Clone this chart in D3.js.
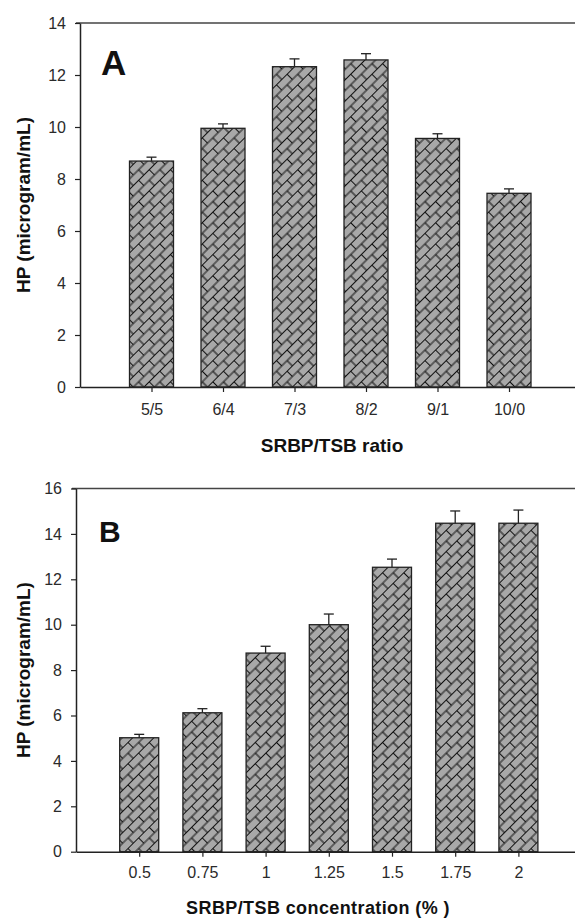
<!DOCTYPE html>
<html>
<head>
<meta charset="utf-8">
<script src="https://cdn.jsdelivr.net/npm/d3@7"></script>
<style>
  body { margin: 0; background: #fff; }
  svg { display: block; font-family: Arial, "Liberation Sans", sans-serif; }
</style>
</head>
<body>
<div id="chart"></div>
<script>
// panel A: SRBP/TSB ratio
const ratioLabels = ["5/5", "6/4", "7/3", "8/2", "9/1", "10/0"]
const ratioValues = [8.69, 9.95, 12.32, 12.58, 9.56, 7.45]
const ratioErrors = [0.15, 0.17, 0.30, 0.24, 0.18, 0.17]
const ratioTicks = [0, 2, 4, 6, 8, 10, 12, 14]

// panel B: SRBP/TSB concentration
const concLabels = ["0.5", "0.75", "1", "1.25", "1.5", "1.75", "2"]
const concValues = [5.02, 6.12, 8.75, 10.0, 12.53, 14.47, 14.47]
const concErrors = [0.15, 0.18, 0.30, 0.47, 0.36, 0.54, 0.58]
const concTicks = [0, 2, 4, 6, 8, 10, 12, 14, 16]

const width = 575, height = 918

const svg = d3.select("#chart").append("svg")
  .attr("width", width)
  .attr("height", height)

// brick hatch used by SigmaPlot-ish bars
const defs = svg.append("defs")
const pat = defs.append("pattern")
  .attr("id", "brick")
  .attr("patternUnits", "userSpaceOnUse")
  .attr("width", 15)
  .attr("height", 15)
  .attr("patternTransform", "rotate(-45)")
pat.append("rect").attr("width", 15).attr("height", 15).attr("fill", "#a8a8a8")
pat.append("path")
  .attr("d", "M0,0.5H15M0,8H15M0.5,0.5V8M8,8V15.5")
  .attr("stroke", "#111")
  .attr("stroke-width", 1.1)
  .attr("fill", "none")

function panel(cfg) {
  const { labels, values, errors, ticks, x0, x1, yTop, yBase, yMax, letter, letterSize, letterX, letterY,
    title, titleX, titleY, titleSize, titleSpacing, labelPad, barW } = cfg

  const x = d3.scalePoint().domain(labels).range([x0, x1]).padding(1)
  const y = d3.scaleLinear().domain([0, yMax]).range([yBase, yTop])

  const g = svg.append("g")

  // top frame line
  g.append("line")
    .attr("x1", x0 - 4).attr("x2", width)
    .attr("y1", y(yMax)).attr("y2", y(yMax))
    .attr("stroke", "#444").attr("stroke-width", 1.5)

  // bars
  g.selectAll("rect.bar")
    .data(values)
    .join("rect")
    .attr("class", "bar")
    .attr("x", (d, i) => x(labels[i]) - barW / 2)
    .attr("width", barW)
    .attr("y", (d) => y(d))
    .attr("height", (d) => y(0) - y(d))
    .attr("fill", "url(#brick)")
    .attr("stroke", "#222")
    .attr("stroke-width", 1.3)

  // upper error bars only
  const err = g.append("g").selectAll("g").data(values).join("g")
  err.append("line")
    .attr("x1", (d, i) => x(labels[i])).attr("x2", (d, i) => x(labels[i]))
    .attr("y1", (d) => y(d)).attr("y2", (d, i) => y(d + errors[i]))
    .attr("stroke", "#222").attr("stroke-width", 1.3)
  err.append("line")
    .attr("x1", (d, i) => x(labels[i]) - 5).attr("x2", (d, i) => x(labels[i]) + 5)
    .attr("y1", (d, i) => y(d + errors[i])).attr("y2", (d, i) => y(d + errors[i]))
    .attr("stroke", "#222").attr("stroke-width", 1.3)

  // y axis
  const ya = g.append("g")
    .attr("transform", `translate(${x0},0)`)
    .call(d3.axisLeft(y).tickValues(ticks).tickFormat(d3.format("d")).tickSize(5).tickSizeOuter(0).tickPadding(9))
  ya.select(".domain").attr("stroke", "#222").attr("stroke-width", 1.5)
  ya.selectAll(".tick line").attr("stroke", "#222").attr("stroke-width", 1.2)
  ya.selectAll(".tick text").attr("fill", "#2a2a2a").style("font-size", "16px")

  // x axis
  const xa = g.append("g")
    .attr("transform", `translate(0,${yBase})`)
    .call(d3.axisBottom(x).tickSize(5).tickSizeOuter(0).tickPadding(labelPad))
  xa.select(".domain").attr("stroke", "#222").attr("stroke-width", 1.5)
  xa.selectAll(".tick line").attr("stroke", "#222").attr("stroke-width", 1.2)
  xa.selectAll(".tick text").attr("fill", "#2a2a2a").style("font-size", "16px")

  // panel letter
  g.append("text")
    .attr("x", letterX).attr("y", letterY)
    .style("font-size", letterSize + "px").style("font-weight", "bold")
    .attr("fill", "#111")
    .text(letter)

  // axis titles
  g.append("text")
    .attr("x", titleX).attr("y", titleY)
    .attr("text-anchor", "middle")
    .style("font-size", titleSize + "px").style("font-weight", "bold")
    .style("letter-spacing", titleSpacing + "px")
    .attr("fill", "#111")
    .text(title)

  g.append("text")
    .attr("transform", `translate(30,${(yTop + yBase) / 2}) rotate(-90)`)
    .attr("text-anchor", "middle")
    .style("font-size", "19px").style("font-weight", "bold")
    .attr("fill", "#111")
    .text("HP (microgram/mL)")
}

panel({
  labels: ratioLabels, values: ratioValues, errors: ratioErrors, ticks: ratioTicks,
  x0: 80, x1: 580.5, yTop: 23, yBase: 387, yMax: 14,
  letter: "A", letterSize: 35, letterX: 101, letterY: 75,
  title: "SRBP/TSB ratio", titleX: 332, titleY: 452, titleSize: 19, titleSpacing: 0,
  labelPad: 12, barW: 44
})

panel({
  labels: concLabels, values: concValues, errors: concErrors, ticks: concTicks,
  x0: 76, x1: 581.6, yTop: 488.5, yBase: 851.7, yMax: 16,
  letter: "B", letterSize: 30, letterX: 99, letterY: 541.5,
  title: "SRBP/TSB concentration (% )", titleX: 318, titleY: 914, titleSize: 18, titleSpacing: 0.4,
  labelPad: 10, barW: 39
})
</script>
</body>
</html>
